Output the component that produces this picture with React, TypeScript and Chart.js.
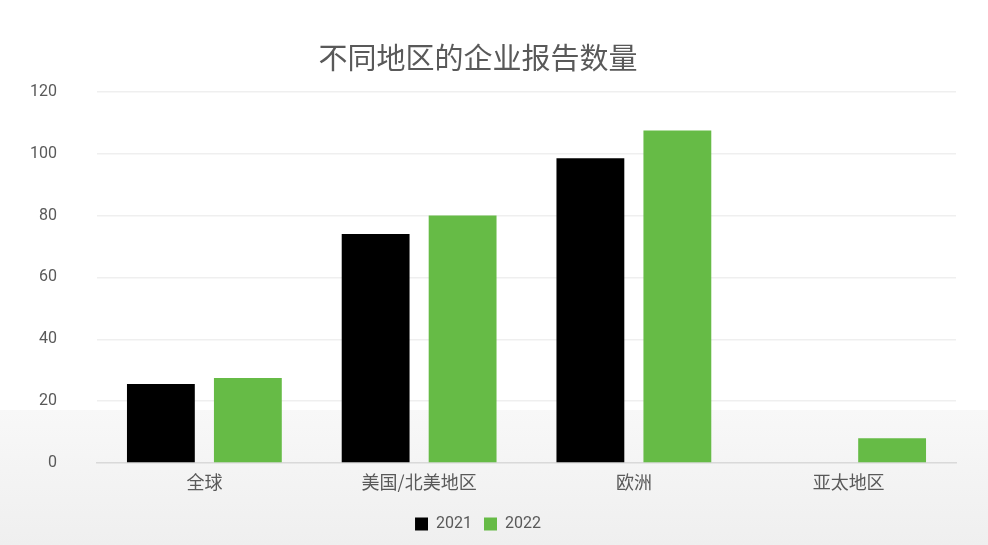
import { useEffect, useRef } from "react"
import { Chart, registerables } from "chart.js"

Chart.register(...registerables)

const regions = ["全球", "美国/北美地区", "欧洲", "亚太地区"]
const years = ["2021", "2022"]
const reports2021 = [25.5, 74, 98.5, 0]
const reports2022 = [27.5, 80, 107.5, 8]
const yTicks = [0, 20, 40, 60, 80, 100, 120]

const textColor = "#595959"
const narrow = "Roboto, 'Noto Sans CJK SC', sans-serif"

export default function App() {
  const chartRef = useRef<HTMLCanvasElement>(null)
  const chartInstance = useRef<Chart | null>(null)

  useEffect(() => {
    document.body.style.margin = "0"
    const canvas = chartRef.current
    if (!canvas) return
    const ctx = canvas.getContext("2d")
    if (!ctx) return

    if (chartInstance.current) chartInstance.current.destroy()

    chartInstance.current = new Chart(ctx, {
      type: "bar",
      data: {
        labels: regions,
        datasets: [
          {
            label: years[0],
            data: reports2021,
            backgroundColor: "#000000",
            categoryPercentage: 0.81,
            barPercentage: 0.78,
          },
          {
            label: years[1],
            data: reports2022,
            backgroundColor: "#66bb46",
            categoryPercentage: 0.81,
            barPercentage: 0.78,
          },
        ],
      },
      options: {
        responsive: true,
        maintainAspectRatio: false,
        animation: false,
        layout: { padding: { left: 0, right: 32, top: 10, bottom: 3 } },
        plugins: {
          title: {
            display: true,
            text: "不同地区的企业报告数量",
            color: textColor,
            font: { family: "'Noto Sans CJK SC', sans-serif", size: 29, weight: "normal" },
            padding: { top: 31, bottom: 16 },
          },
          legend: {
            position: "bottom",
            labels: {
              color: textColor,
              boxWidth: 13,
              boxHeight: 13,
              padding: 12,
              font: { family: narrow, size: 16 },
            },
          },
          tooltip: { enabled: false },
        },
        scales: {
          x: {
            afterFit: (axis) => {
              axis.height = 41
            },
            grid: { display: false },
            border: { color: "#d9d9d9", width: 1.5 },
            ticks: {
              color: textColor,
              padding: 0,
              font: { family: "'Noto Sans CJK SC', sans-serif", size: 18 },
            },
          },
          y: {
            min: 0,
            max: 120,
            afterBuildTicks: (axis) => {
              axis.ticks = yTicks.map((v) => ({ value: v }))
            },
            afterFit: (axis) => {
              axis.width = 97
            },
            grid: { color: "#efefef", drawTicks: false, lineWidth: 1.5 },
            border: { display: false },
            ticks: {
              color: textColor,
              padding: 40,
              font: { family: narrow, size: 16 },
            },
          },
        },
      },
    })

    return () => {
      if (chartInstance.current) chartInstance.current.destroy()
    }
  }, [])

  return (
    <div
      style={{
        position: "absolute",
        left: 0,
        top: 0,
        width: 988,
        height: 545,
        background:
          "linear-gradient(to bottom, #ffffff 0px, #ffffff 410px, #f8f8f8 410px, #efefef 545px)",
      }}
    >
      <canvas ref={chartRef} />
    </div>
  )
}
